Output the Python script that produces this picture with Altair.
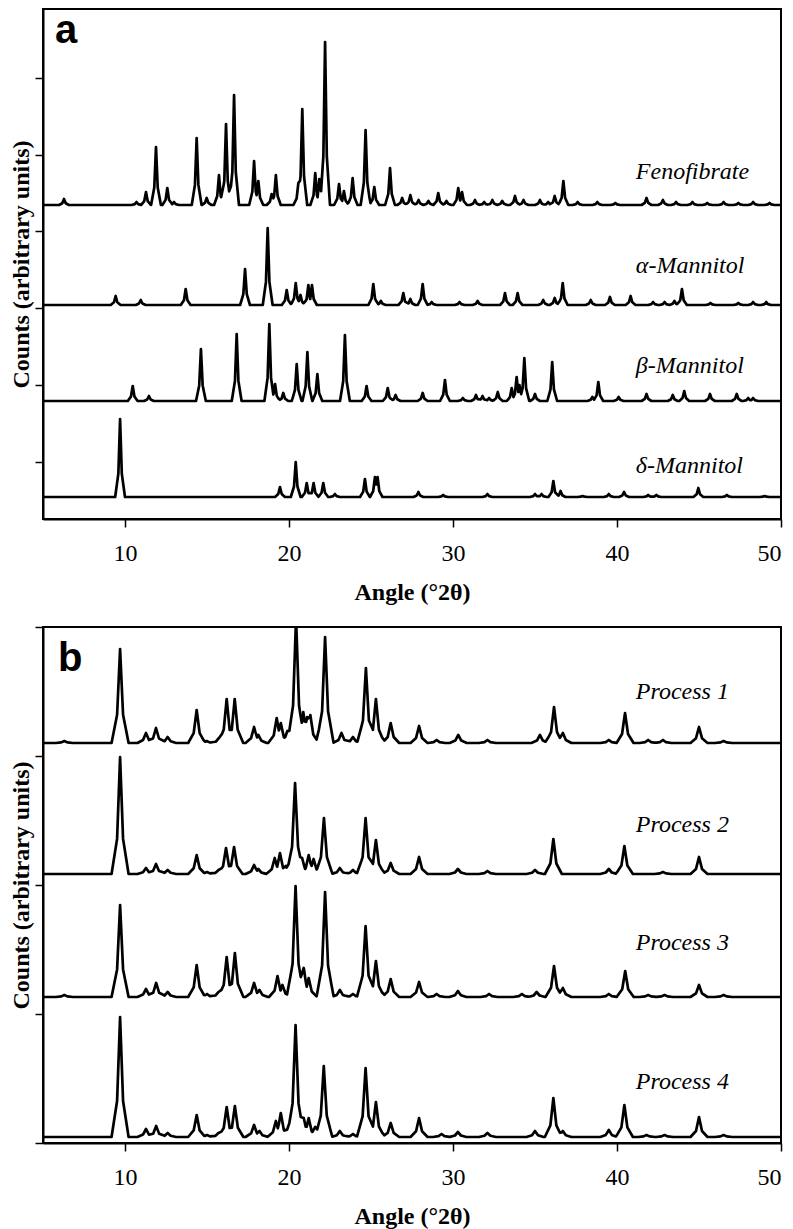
import altair as alt
import pandas as pd

# ---------------- axis ranges / ticks ----------------
ANGLE_DOMAIN = [5, 50]
X_TICKS = [10, 20, 30, 40, 50]
Y_DOMAIN_A = [0, 510]
Y_TICKS_A = [57, 134, 211, 288, 364, 441]
Y_DOMAIN_B = [0, 516]
Y_TICKS_B = [0, 129, 258, 387, 516]

# ---------------- panel a: reference patterns ----------------
NAMES_A = ["Fenofibrate", "α-Mannitol", "β-Mannitol", "δ-Mannitol"]
BASELINE_A = [314, 214, 118, 22]
LABEL_Y_A = [340, 246, 146, 46]

FENO_ANGLE = [6.28, 10.7, 11.28, 11.89, 12.58, 12.99, 14.37, 14.98, 15.73, 16.16, 16.65,
              17.87, 18.13, 18.94, 19.2, 20.57, 20.81, 21.6, 21.85, 22.2, 23.05, 23.35,
              23.88, 24.67, 25.2, 26.16, 26.9, 27.4, 27.9, 28.5, 29.1, 29.6, 30.32, 30.55,
              31.34, 31.9, 32.4, 33.0, 33.78, 34.3, 35.3, 35.8, 36.2, 36.73, 37.6, 38.8,
              39.9, 41.8, 42.8, 43.6, 44.6, 45.5, 46.5, 47.4, 48.3, 49.3]
FENO_COUNTS = [6, 3, 13, 58, 17, 3, 67, 7, 30, 81, 110,
               44, 24, 11, 30, 22, 96, 32, 26, 163, 21, 14,
               27, 75, 18, 37, 7, 10, 5, 4, 12, 4, 17, 13,
               5, 3, 5, 4, 9, 5, 5, 3, 9, 24, 3, 3,
               2, 7, 5, 3, 3, 2, 3, 2, 3, 2]

ALPHA_ANGLE = [9.43, 10.96, 13.7, 17.32, 18.7, 19.86, 20.41, 20.7, 21.18, 21.4, 25.14,
               25.6, 26.97, 27.4, 28.15, 28.7, 30.4, 31.5, 33.17, 33.94, 35.5, 36.2,
               36.69, 38.4, 39.57, 40.83, 42.2, 42.9, 43.5, 43.96, 45.7, 47.4, 48.3, 49.1]
ALPHA_COUNTS = [9, 5, 16, 36, 77, 15, 22, 10, 20, 20, 21,
                4, 12, 6, 21, 3, 3, 4, 12, 12, 5, 7,
                22, 5, 8, 9, 3, 3, 4, 16, 2, 2, 3, 3]

BETA_ANGLE = [10.47, 11.46, 14.63, 16.81, 18.8, 19.15, 19.65, 20.47, 21.12, 21.73, 23.41,
              24.73, 26.02, 26.5, 28.15, 29.51, 30.6, 31.4, 31.8, 32.2, 32.73, 33.58,
              33.88, 34.05, 34.35, 35.0, 36.05, 38.5, 38.86, 40.1, 41.8, 43.4, 44.1,
              45.67, 47.3, 48.0, 48.3]
BETA_COUNTS = [15, 5, 52, 67, 77, 17, 8, 37, 49, 27, 66,
               15, 13, 6, 8, 21, 3, 6, 5, 3, 9, 13,
               24, 16, 43, 7, 39, 4, 19, 4, 7, 6, 10,
               7, 7, 3, 3]

DELTA_ANGLE = [9.7, 19.45, 20.41, 21.08, 21.5, 22.09, 22.8, 24.63, 25.24, 25.4, 27.89,
               29.4, 32.1, 35.0, 35.4, 36.12, 36.56, 37.9, 39.5, 40.43, 41.9, 42.4,
               44.96, 46.7, 49.0]
DELTA_COUNTS = [78, 10, 35, 14, 14, 14, 3, 18, 20, 20, 5,
                2, 3, 3, 3, 16, 6, 1, 3, 5, 2, 2,
                9, 2, 1]

# ---------------- panel b: processed samples ----------------
NAMES_B = ["Process 1", "Process 2", "Process 3", "Process 4"]
BASELINE_B = [400, 269, 146, 6]
LABEL_Y_B = [444, 311, 193, 54]

P1_ANGLE = [6.3, 9.7, 11.28, 11.89, 12.6, 14.37, 14.98, 15.73, 16.2, 16.69, 17.87, 18.13,
            19.25, 19.5, 19.9, 20.43, 20.87, 21.1, 21.3, 22.2, 23.2, 23.9, 24.69, 25.3,
            26.2, 27.93, 29.0, 30.32, 32.1, 35.3, 36.16, 36.7, 39.5, 40.49, 41.9, 42.8,
            45.0, 46.5]
P1_COUNTS = [2, 94, 10, 15, 6, 33, 2, 5, 44, 44, 16, 8,
             25, 20, 12, 125, 31, 26, 28, 106, 10, 6, 75, 44,
             20, 17, 3, 8, 3, 8, 36, 10, 3, 30, 3, 3,
             16, 2]

P2_ANGLE = [9.7, 11.28, 11.89, 12.6, 14.37, 15.0, 15.7, 16.16, 16.65, 17.87, 18.13, 19.13,
            19.45, 19.8, 20.37, 20.8, 21.2, 21.5, 22.13, 23.1, 23.9, 24.67, 25.3, 26.2,
            27.93, 30.3, 32.1, 35.0, 36.12, 39.5, 40.45, 42.8, 45.0]
P2_COUNTS = [117, 6, 10, 4, 19, 2, 4, 26, 27, 9, 5, 16,
             21, 8, 91, 16, 19, 15, 56, 6, 4, 56, 34, 11,
             17, 5, 3, 4, 35, 5, 28, 2, 17]

P3_ANGLE = [6.3, 9.7, 11.28, 11.9, 12.6, 14.37, 15.0, 15.7, 16.2, 16.7, 17.87, 18.2,
            19.3, 19.6, 20.4, 20.9, 21.2, 22.2, 23.1, 23.9, 24.67, 25.3, 26.2, 27.93,
            29.0, 30.3, 32.2, 34.2, 35.1, 36.16, 36.7, 39.5, 40.5, 41.9, 42.9, 45.0, 46.5]
P3_COUNTS = [2, 92, 8, 14, 5, 32, 3, 5, 40, 44, 14, 7,
             21, 12, 111, 29, 19, 105, 7, 3, 71, 36, 18, 15,
             3, 6, 3, 3, 5, 31, 9, 3, 26, 2, 2, 12, 2]

P4_ANGLE = [9.7, 11.28, 11.9, 12.6, 14.37, 15.0, 15.7, 16.2, 16.7, 17.87, 18.2, 19.2,
            19.5, 19.9, 20.4, 20.9, 21.2, 21.6, 22.12, 23.1, 23.9, 24.67, 25.3,
            26.2, 27.93, 29.3, 30.3, 32.1, 35.0, 36.12, 36.7, 39.5, 40.45, 41.8, 42.9,
            45.0, 46.5]
P4_COUNTS = [120, 8, 11, 4, 22, 2, 4, 30, 31, 12, 6, 16,
             24, 8, 112, 19, 19, 10, 71, 6, 3, 69, 35,
             14, 19, 3, 5, 4, 6, 39, 6, 7, 32, 2, 2,
             20, 2]

LABEL_ANGLE = 41.15
PEAK_HALF_WIDTH_A = 0.3
PEAK_HALF_WIDTH_B = 0.52
SERIF = "'Liberation Serif', 'Times New Roman', Times, serif"


def profile(name, angles, counts, base, w):
    """Peak list -> vertices of a line (sharp tip, flared foot at each peak)."""
    xs = {ANGLE_DOMAIN[0], ANGLE_DOMAIN[1]}
    for p in angles:
        for k in (-1.0, -0.35, 0.0, 0.35, 1.0):
            xs.add(round(p + k * w, 4))
    xs = sorted(x for x in xs if ANGLE_DOMAIN[0] <= x <= ANGLE_DOMAIN[1])
    rows = []
    for x in xs:
        best = 0.0
        for p, h in zip(angles, counts):
            d = abs(x - p) / w
            if d < 1:
                k = 1 - 2 * d if d <= 0.35 else 0.3 * (1 - d) / 0.65
                best = max(best, h * k)
        rows.append({"series": name, "angle": x, "counts": base + best})
    return rows


rows_a = []
for nm, ang, cnt, b in zip(NAMES_A, [FENO_ANGLE, ALPHA_ANGLE, BETA_ANGLE, DELTA_ANGLE],
                           [FENO_COUNTS, ALPHA_COUNTS, BETA_COUNTS, DELTA_COUNTS], BASELINE_A):
    rows_a += profile(nm, ang, cnt, b, PEAK_HALF_WIDTH_A)
rows_b = []
for nm, ang, cnt, b in zip(NAMES_B, [P1_ANGLE, P2_ANGLE, P3_ANGLE, P4_ANGLE],
                           [P1_COUNTS, P2_COUNTS, P3_COUNTS, P4_COUNTS], BASELINE_B):
    rows_b += profile(nm, ang, cnt, b, PEAK_HALF_WIDTH_B)

df_a = pd.DataFrame(rows_a)
df_b = pd.DataFrame(rows_b)
lab_a = pd.DataFrame({"name": NAMES_A, "angle": [LABEL_ANGLE] * 4, "counts": LABEL_Y_A})
lab_b = pd.DataFrame({"name": NAMES_B, "angle": [LABEL_ANGLE] * 4, "counts": LABEL_Y_B})
letter_a = pd.DataFrame({"name": ["a"], "angle": [5.73], "counts": [476]})
letter_b = pd.DataFrame({"name": ["b"], "angle": [5.91], "counts": [472]})


def panel(df, labels, letter, ydom, yticks, height):
    x = alt.X("angle:Q", scale=alt.Scale(domain=ANGLE_DOMAIN, nice=False, zero=False),
              axis=alt.Axis(values=X_TICKS, title="Angle (°2θ)", format="d",
                            labelFont=SERIF, titleFont=SERIF,
                            labelPadding=14, titlePadding=15))
    y = alt.Y("counts:Q", scale=alt.Scale(domain=ydom, nice=False, zero=False),
              axis=alt.Axis(values=yticks, labels=False, title="Counts (arbitrary units)",
                            titleFont=SERIF, titlePadding=1))
    lines = alt.Chart(df).mark_line(color="black", strokeWidth=2.7, clip=True,
                                    strokeJoin="round").encode(
        x=x, y=y, detail="series:N", order="angle:Q")
    texts = alt.Chart(labels).mark_text(align="left", baseline="alphabetic",
                                        font=SERIF, fontStyle="italic",
                                        fontSize=24, color="black").encode(
        x="angle:Q", y="counts:Q", text="name:N")
    let = alt.Chart(letter).mark_text(align="left", baseline="alphabetic",
                                      font="Liberation Sans", fontWeight="bold",
                                      fontSize=40, color="black").encode(
        x="angle:Q", y="counts:Q", text="name:N")
    return alt.layer(lines, texts, let).properties(width=738, height=height)


top = panel(df_a, lab_a, letter_a, Y_DOMAIN_A, Y_TICKS_A, 510)
bottom = panel(df_b, lab_b, letter_b, Y_DOMAIN_B, Y_TICKS_B, 516)

chart = alt.vconcat(top, bottom, spacing=20).properties(padding=0).configure_view(
    stroke="black", strokeWidth=2
).configure_axis(
    grid=False, domainColor="black", domainWidth=2, tickColor="black", tickWidth=1.5,
    tickSize=8, labelFont=SERIF, labelFontSize=24, labelColor="black",
    titleFont=SERIF, titleFontSize=24, titleFontWeight="bold",
    titleColor="black"
)

chart.save("out.html", embed_options={"renderer": "svg", "actions": False})
